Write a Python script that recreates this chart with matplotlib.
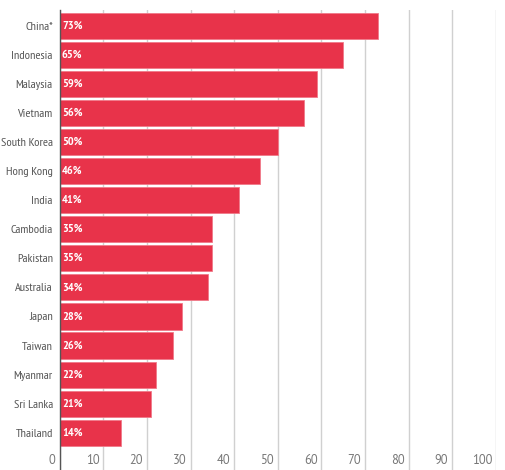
import matplotlib
matplotlib.use("Agg")
import matplotlib.pyplot as plt
from matplotlib.transforms import ScaledTranslation

countries = ["China*", "Indonesia", "Malaysia", "Vietnam", "South Korea", "Hong Kong",
             "India", "Cambodia", "Pakistan", "Australia", "Japan", "Taiwan",
             "Myanmar", "Sri Lanka", "Thailand"]
values = [73, 65, 59, 56, 50, 46, 41, 35, 35, 34, 28, 26, 22, 21, 14]
xticks = [0, 10, 20, 30, 40, 50, 60, 70, 80, 90, 100]

NARROW = ["PT Sans Narrow", "Lato", "DejaVu Sans"]
REG = ["PT Sans", "Lato", "DejaVu Sans"]

W, H = 506, 470
fig = plt.figure(figsize=(W / 100, H / 100), dpi=100)
ax = fig.add_axes([59.7 / W, 0, 436.3 / W, 460 / H])

ypos = list(range(len(countries)))
ax.barh(ypos, values, height=0.9, color="#e8334a", edgecolor="#f07a89",
        linewidth=0.6, zorder=3)

ax.set_xlim(0, 100)
ax.set_ylim(len(countries) - 1 + 1.28, -0.54)

ax.set_xticks(xticks)
ax.set_xticklabels([str(t) for t in xticks])
ax.grid(axis="x", color="#d0d0d0", linewidth=1.0, zorder=0)
ax.tick_params(axis="x", length=0, pad=-11.5, labelsize=9.0, labelcolor="#777777")
for lab in ax.get_xticklabels():
    lab.set_horizontalalignment("right")
    lab.set_family(REG)
    lab.set_transform(lab.get_transform() + ScaledTranslation(-4 / 100, 0, fig.dpi_scale_trans))

ax.set_yticks(ypos)
ax.set_yticklabels(countries, family=NARROW, fontsize=8.8, color="#555555")
ax.tick_params(axis="y", length=0, pad=5)

for s in ["top", "right", "bottom"]:
    ax.spines[s].set_visible(False)
ax.spines["left"].set_color("#555555")
ax.spines["left"].set_linewidth(1.0)
ax.spines["left"].set_zorder(4)

for y, v in zip(ypos, values):
    ax.text(0.5, y, f"{v}%", va="center", ha="left", color="white",
            fontsize=8.8, fontweight="bold", family=NARROW, zorder=5)

fig.savefig("out.png", dpi=100)
